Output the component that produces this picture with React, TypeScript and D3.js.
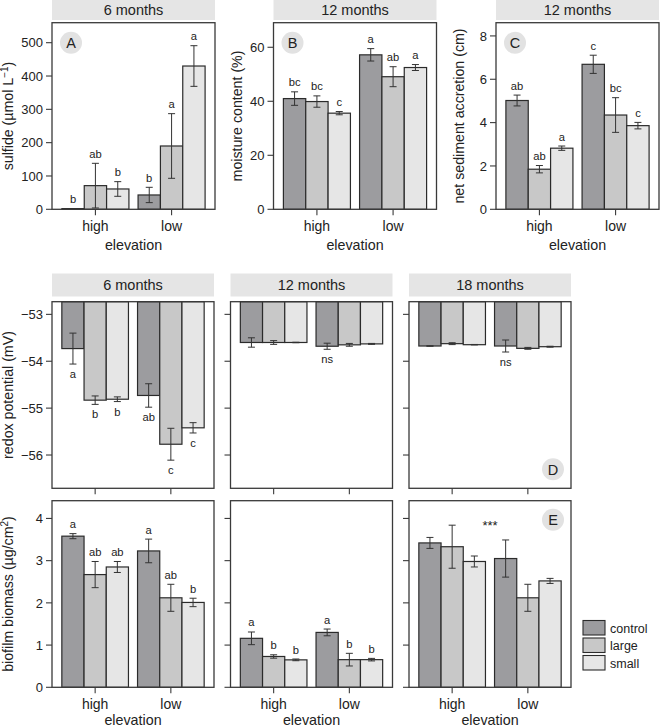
import React from 'react';
import * as d3 from 'd3';

const groups = ['high', 'low'];
const treatments = ['control', 'large', 'small'];
const fills = ['#9c9c9f', '#c8c8c8', '#e6e6e6'];

// order: high-control, high-large, high-small, low-control, low-large, low-small
const sulfide6 = [2, 71, 61, 43, 190, 430];
const sulfide6Err = [0, 67, 22, 23, 97, 61];
const sulfide6Let = ['b', 'ab', 'b', 'b', 'a', 'a'];

const moisture12 = [41.0, 39.9, 35.6, 57.2, 49.1, 52.5];
const moisture12Err = [2.5, 2.1, 0.6, 2.3, 3.7, 1.1];
const moisture12Let = ['bc', 'bc', 'c', 'a', 'ab', 'a'];

const accretion12 = [5.02, 1.85, 2.82, 6.69, 4.35, 3.86];
const accretion12Err = [0.25, 0.17, 0.1, 0.42, 0.8, 0.15];
const accretion12Let = ['ab', 'ab', 'a', 'c', 'bc', 'c'];

const redox6 = [-53.73, -54.83, -54.81, -54.73, -55.77, -55.42];
const redox6Err = [0.33, 0.09, 0.05, 0.25, 0.34, 0.11];
const redox6Let = ['a', 'b', 'b', 'ab', 'c', 'c'];

const redox12 = [-53.6, -53.6, -53.6, -53.68, -53.65, -53.63];
const redox12Err = [0.1, 0.04, 0.005, 0.065, 0.03, 0.01];
const redox12Let = ['', '', '', 'ns', '', ''];

const redox18 = [-53.675, -53.625, -53.647, -53.675, -53.725, -53.69];
const redox18Err = [0.005, 0.02, 0.005, 0.128, 0.02, 0.01];
const redox18Let = ['', '', '', 'ns', '', ''];

const biofilm6 = [3.58, 2.67, 2.85, 3.23, 2.12, 2.01];
const biofilm6Err = [0.06, 0.31, 0.13, 0.28, 0.32, 0.1];
const biofilm6Let = ['a', 'ab', 'ab', 'a', 'ab', 'b'];

const biofilm12 = [1.16, 0.73, 0.65, 1.3, 0.655, 0.655];
const biofilm12Err = [0.15, 0.04, 0.02, 0.08, 0.15, 0.03];
const biofilm12Let = ['a', 'b', 'b', 'a', 'b', 'b'];

const biofilm18 = [3.42, 3.33, 2.98, 3.05, 2.12, 2.52];
const biofilm18Err = [0.13, 0.51, 0.13, 0.44, 0.32, 0.06];
const biofilm18Let = ['', '', '', '', '', ''];

const sulfideTicks = [0, 100, 200, 300, 400, 500];
const moistureTicks = [0, 20, 40, 60];
const accretionTicks = [0, 2, 4, 6, 8];
const redoxTicks = [-53, -54, -55, -56];
const biofilmTicks = [0, 1, 2, 3, 4];

const FONT = '"Liberation Sans", Arial, Helvetica, sans-serif';
const TXT = '#222';
const AX = '#3a3a3a';

type PanelProps = {
  left: number;
  top: number;
  width: number;
  height: number;
  domain: [number, number];
  ticks: number[];
  showTickLabels: boolean;
  values: number[];
  errors: number[];
  letters: string[];
  below?: boolean;
  hang?: boolean;
  strip?: string;
  stripTop?: number;
  stripH?: number;
  tag?: string;
  tagCorner?: 'tl' | 'tr' | 'br';
  xLabels?: boolean;
  xLabelY?: number;
  xTitleY?: number;
  star?: string;
};

function Panel(p: PanelProps) {
  const y = d3.scaleLinear().domain(p.domain).range([p.top + p.height, p.top]);
  const x0 = d3
    .scaleBand<string>()
    .domain(groups)
    .range([p.left, p.left + p.width])
    .paddingInner(0.12)
    .paddingOuter(0.13);
  const x1 = d3.scaleBand<string>().domain(treatments).range([0, x0.bandwidth()]);
  const bottom = p.top + p.height;
  const base = p.hang ? p.domain[1] : 0;
  let tagX = 0;
  let tagY = 0;
  if (p.tagCorner === 'tl') {
    tagX = p.left + 19;
    tagY = p.top + 20;
  } else if (p.tagCorner === 'tr') {
    tagX = p.left + p.width - 18;
    tagY = p.top + 19;
  } else {
    tagX = p.left + p.width - 18;
    tagY = bottom - 19;
  }
  return (
    <g>
      {p.strip && (
        <g>
          <rect x={p.left} y={p.stripTop} width={p.width} height={p.stripH} fill="#e5e5e5" />
          <text
            x={p.left + p.width / 2}
            y={(p.stripTop as number) + (p.stripH as number) / 2 + 5.2}
            textAnchor="middle"
            fontSize={14.5}
            fill={TXT}
          >
            {p.strip}
          </text>
        </g>
      )}
      {p.values.map((v, i) => {
        const g = groups[Math.floor(i / 3)];
        const t = treatments[i % 3];
        const bx = (x0(g) as number) + (x1(t) as number);
        const y1 = y(base);
        const y2 = y(v);
        return (
          <rect
            key={'b' + i}
            x={bx}
            y={Math.min(y1, y2)}
            width={x1.bandwidth()}
            height={Math.abs(y2 - y1)}
            fill={fills[i % 3]}
            stroke="#2b2b2b"
            strokeWidth={1.2}
          />
        );
      })}
      {p.values.map((v, i) => {
        const g = groups[Math.floor(i / 3)];
        const t = treatments[i % 3];
        const cx = (x0(g) as number) + (x1(t) as number) + x1.bandwidth() / 2;
        const e = p.errors[i];
        const yt = y(v + e);
        const yb = y(v - e);
        return (
          <g key={'e' + i} stroke="#333" strokeWidth={1}>
            {e > 0 && (
              <>
                <line x1={cx} x2={cx} y1={yt} y2={yb} />
                <line x1={cx - 3.5} x2={cx + 3.5} y1={yt} y2={yt} />
                <line x1={cx - 3.5} x2={cx + 3.5} y1={yb} y2={yb} />
              </>
            )}
          </g>
        );
      })}
      {p.values.map((v, i) => {
        if (!p.letters[i]) return null;
        const g = groups[Math.floor(i / 3)];
        const t = treatments[i % 3];
        const cx = (x0(g) as number) + (x1(t) as number) + x1.bandwidth() / 2;
        const e = p.errors[i];
        const ly = p.below ? y(v - e) + 14 : y(v + e) - 5.5;
        return (
          <text key={'l' + i} x={cx} y={ly} textAnchor="middle" fontSize={11.2} fill={TXT}>
            {p.letters[i]}
          </text>
        );
      })}
      {p.star && (
        <text x={p.left + p.width / 2} y={p.top + 29} textAnchor="middle" fontSize={13} fill={TXT}>
          {p.star}
        </text>
      )}
      <rect
        x={p.left}
        y={p.top}
        width={p.width}
        height={p.height}
        fill="none"
        stroke={AX}
        strokeWidth={1.3}
      />
      {p.ticks.map((t) => (
        <g key={'t' + t}>
          <line x1={p.left - 6} x2={p.left} y1={y(t)} y2={y(t)} stroke={AX} strokeWidth={1.1} />
          {p.showTickLabels && (
            <text x={p.left - 9} y={y(t) + 4.7} textAnchor="end" fontSize={13} fill={TXT}>
              {t < 0 ? '\u2212' + Math.abs(t) : String(t)}
            </text>
          )}
        </g>
      ))}
      {groups.map((g) => {
        const cx = (x0(g) as number) + x0.bandwidth() / 2;
        return (
          <g key={'x' + g}>
            <line x1={cx} x2={cx} y1={bottom} y2={bottom + 6} stroke={AX} strokeWidth={1.1} />
            {p.xLabels && (
              <text x={cx} y={p.xLabelY} textAnchor="middle" fontSize={14} fill={TXT}>
                {g}
              </text>
            )}
          </g>
        );
      })}
      {p.xLabels && (
        <text x={p.left + p.width / 2} y={p.xTitleY} textAnchor="middle" fontSize={14.3} fill={TXT}>
          elevation
        </text>
      )}
      {p.tag && (
        <g>
          <circle cx={tagX} cy={tagY} r={11} fill="#e2e2e2" />
          <text x={tagX} y={tagY + 5.3} textAnchor="middle" fontSize={14.5} fill={TXT}>
            {p.tag}
          </text>
        </g>
      )}
    </g>
  );
}

function YTitle({ x, y, children }: { x: number; y: number; children: React.ReactNode }) {
  return (
    <text
      transform={`translate(${x},${y}) rotate(-90)`}
      textAnchor="middle"
      fontSize={14.2}
      fill={TXT}
    >
      {children}
    </text>
  );
}

export default function App() {
  const topW = 163;
  const botW = 162;
  const topTop = 22.7;
  const topH = 186.6;
  const midTop = 301.7;
  const midH = 186.6;
  const botTop = 500.7;
  const botH = 186.6;
  const botLefts = [52, 230.5, 409];

  const topCommon = {
    top: topTop,
    height: topH,
    width: topW,
    showTickLabels: true,
    stripTop: 0,
    stripH: 20,
    xLabels: true,
    xLabelY: 230.5,
    xTitleY: 250,
    tagCorner: 'tl' as const,
  };
  const redoxDomain: [number, number] = [-56.71, -52.73];
  const bioDomain: [number, number] = [0, 4.42];
  const midCommon = {
    top: midTop,
    height: midH,
    width: botW,
    domain: redoxDomain,
    ticks: redoxTicks,
    hang: true,
    below: true,
    stripTop: 273.5,
    stripH: 23,
  };
  const botCommon = {
    top: botTop,
    height: botH,
    width: botW,
    domain: bioDomain,
    ticks: biofilmTicks,
    xLabels: true,
    xLabelY: 708.5,
    xTitleY: 724.5,
  };
  const legendY = d3.scaleBand<string>().domain(treatments).range([620.5, 673]);

  return (
    <svg
      width={660}
      height={728}
      style={{ position: 'absolute', left: 0, top: 0, fontFamily: FONT }}
      fontFamily={FONT}
    >
      <rect width={660} height={728} fill="#fff" />
      <Panel
        {...topCommon}
        left={52}
        domain={[0, 560]}
        ticks={sulfideTicks}
        values={sulfide6}
        errors={sulfide6Err}
        letters={sulfide6Let}
        strip="6 months"
        tag="A"
      />
      <Panel
        {...topCommon}
        left={273.5}
        domain={[0, 69.1]}
        ticks={moistureTicks}
        values={moisture12}
        errors={moisture12Err}
        letters={moisture12Let}
        strip="12 months"
        tag="B"
      />
      <Panel
        {...topCommon}
        left={496}
        domain={[0, 8.61]}
        ticks={accretionTicks}
        values={accretion12}
        errors={accretion12Err}
        letters={accretion12Let}
        strip="12 months"
        tag="C"
      />
      <YTitle x={13} y={116}>
        sulfide (µmol L
        <tspan fontSize={10} dy={-5}>
          −1
        </tspan>
        <tspan dy={5}>)</tspan>
      </YTitle>
      <YTitle x={242} y={116}>
        moisture content (%)
      </YTitle>
      <YTitle x={464} y={116}>
        net sediment accretion (cm)
      </YTitle>

      <Panel
        {...midCommon}
        left={botLefts[0]}
        showTickLabels={true}
        values={redox6}
        errors={redox6Err}
        letters={redox6Let}
        strip="6 months"
      />
      <Panel
        {...midCommon}
        left={botLefts[1]}
        showTickLabels={false}
        values={redox12}
        errors={redox12Err}
        letters={redox12Let}
        strip="12 months"
      />
      <Panel
        {...midCommon}
        left={botLefts[2]}
        showTickLabels={false}
        values={redox18}
        errors={redox18Err}
        letters={redox18Let}
        strip="18 months"
        tag="D"
        tagCorner="br"
      />
      <YTitle x={13} y={395}>
        redox potential (mV)
      </YTitle>

      <Panel
        {...botCommon}
        left={botLefts[0]}
        showTickLabels={true}
        values={biofilm6}
        errors={biofilm6Err}
        letters={biofilm6Let}
      />
      <Panel
        {...botCommon}
        left={botLefts[1]}
        showTickLabels={false}
        values={biofilm12}
        errors={biofilm12Err}
        letters={biofilm12Let}
      />
      <Panel
        {...botCommon}
        left={botLefts[2]}
        showTickLabels={false}
        values={biofilm18}
        errors={biofilm18Err}
        letters={biofilm18Let}
        tag="E"
        tagCorner="tr"
        star="***"
      />
      <YTitle x={13} y={594}>
        biofilm biomass (µg/cm
        <tspan fontSize={10} dy={-5}>
          2
        </tspan>
        <tspan dy={5}>)</tspan>
      </YTitle>

      {treatments.map((t, i) => (
        <g key={'lg' + t}>
          <rect
            x={583}
            y={legendY(t)}
            width={22}
            height={14.5}
            fill={fills[i]}
            stroke="#2b2b2b"
            strokeWidth={1.1}
          />
          <text x={610} y={(legendY(t) as number) + 12} fontSize={12.5} fill={TXT}>
            {t}
          </text>
        </g>
      ))}
    </svg>
  );
}
